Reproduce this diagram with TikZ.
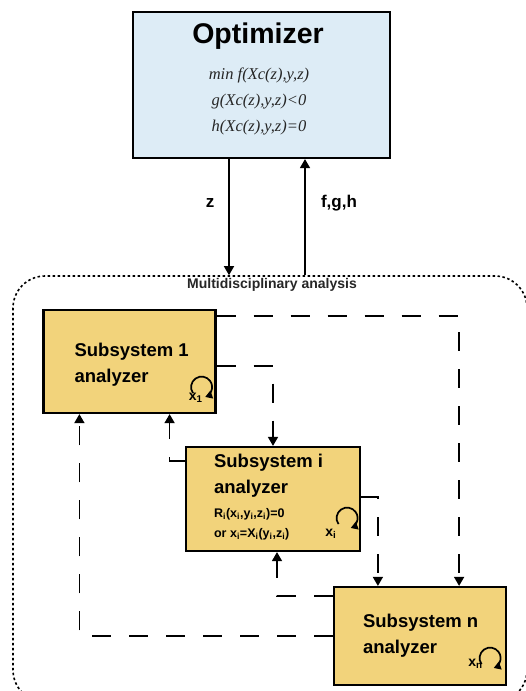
\documentclass[tikz,border=0pt]{standalone}
\usepackage{fontspec}
\setmainfont{Liberation Sans}
\newfontfamily\formfont{Liberation Serif}
\usetikzlibrary{positioning,arrows.meta}
\definecolor{optblue}{RGB}{221,236,246}
\definecolor{subgold}{RGB}{242,211,123}

\begin{document}
\begin{tikzpicture}[x=1pt,y=-1pt]
  % Parameters
  \def\dashon{19pt}
  \def\dashoff{18pt}
  \def\loopr{10.5pt}

  % Styles and the little iteration loop
  \tikzset{
    boxline/.style={draw, line width=2.2pt, rectangle, inner sep=0pt},
    subbox/.style={boxline, fill=subgold, minimum width=172pt, minimum height=103pt},
    lbl/.style={font=\bfseries\fontsize{18.5}{26}\selectfont, align=left, anchor=north west, inner sep=0pt},
    xlbl/.style={font=\bfseries\fontsize{14}{16}\selectfont, anchor=base west, inner sep=0pt},
    arrowtip/.style={-{Triangle[length=9pt,width=10pt]}},
    flow/.style={arrowtip, line width=1.5pt, dash pattern=on \dashon off \dashoff},
    feed/.style={arrowtip, line width=1.5pt},
    iterloop/.pic={
      \draw[line width=1.7pt, -{Triangle[length=7pt,width=8pt]}]
        (215:\loopr) arc[start angle=215, end angle=-70, radius=\loopr];
    }
  }

  \useasboundingbox (0,0) rectangle (526,691);

  % Optimizer
  \node[boxline, fill=optblue, minimum width=257pt, minimum height=146pt] (opt) at (261.5,85) {};
  \node[font=\bfseries\fontsize{28.5}{30}\selectfont] (optTitle) at (258,36) {Optimizer};
  \node[font=\formfont\itshape\fontsize{16.5}{26}\selectfont, text=black!85, align=center] (optForm) at (259,101)
    {min f(Xc(z),y,z)\\g(Xc(z),y,z)<0\\h(Xc(z),y,z)=0};

  % Multidisciplinary analysis frame
  \node[draw, line width=1.6pt, dash pattern=on 2.5pt off 2.5pt, rounded corners=32pt,
        minimum width=514pt, minimum height=426pt, inner sep=0pt] (mda) at (270,489) {};
  \node[font=\bfseries\fontsize{14}{16}\selectfont, text=black!85, anchor=north, inner sep=0pt]
    (mdaLbl) at ([xshift=2pt,yshift=-3pt]mda.north) {Multidisciplinary analysis};

  % z and f,g,h
  \draw[feed] ([xshift=-32.5pt]opt.south) -- ([xshift=-32.5pt]opt.south |- mda.north);
  \draw[feed] ([xshift=43.5pt]opt.south |- mda.north) -- ([xshift=43.5pt]opt.south);
  \node[font=\bfseries\fontsize{17}{20}\selectfont, anchor=base] (zLbl) at (210,207) {z};
  \node[font=\bfseries\fontsize{17}{20}\selectfont, anchor=base] (fghLbl) at (339,207) {f,g,h};

  % Subsystems
  \node[subbox] (s1) at (129.5,361.5) {};
  \node[subbox, minimum width=174pt, minimum height=104pt] (si) at (273,499) {};
  \node[subbox, minimum height=98pt] (sn) at (420,636) {};

  \node[lbl] (s1Txt) at ([xshift=32pt,yshift=-34pt]s1.north west) {Subsystem 1\\analyzer};
  \node[lbl] (siTxt) at ([xshift=29pt,yshift=-7.5pt]si.north west) {Subsystem i\\analyzer};
  \node[lbl, font=\bfseries\fontsize{12.5}{20}\selectfont] (siEq) at ([xshift=29pt,yshift=-62pt]si.north west)
    {R\textsubscript{i}(x\textsubscript{i},y\textsubscript{i},z\textsubscript{i})=0\\or x\textsubscript{i}=X\textsubscript{i}(y\textsubscript{i},z\textsubscript{i})};
  \node[lbl] (snTxt) at ([xshift=30pt,yshift=-27.5pt]sn.north west) {Subsystem n\\analyzer};

  % Iteration loops
  \pic at ([xshift=-15pt,yshift=27pt]s1.south east) {iterloop};
  \pic at ([xshift=-14pt,yshift=34pt]si.south east) {iterloop};
  \pic at ([xshift=-17pt,yshift=28pt]sn.south east) {iterloop};
  \node[xlbl] (x1) at ([xshift=-28pt,yshift=14pt]s1.south east) {x\textsubscript{1}};
  \node[xlbl] (xi) at ([xshift=-36pt,yshift=16pt]si.south east) {x\textsubscript{i}};
  \node[xlbl] (xn) at ([xshift=-39pt,yshift=20pt]sn.south east) {x\textsubscript{n}};

  % Coupling flows
  \draw[flow] ([yshift=-7pt]s1.north east) -| ([xshift=-48pt]sn.north east);
  \draw[flow] ([yshift=-57pt]s1.north east) -| (si.north);
  \draw[flow] ([yshift=-51pt]si.north east) -| ([xshift=45pt]sn.north west);
  \draw[flow] ([yshift=-10pt]sn.north west) -| ([xshift=4pt]si.south);
  \draw[flow] ([yshift=-50pt]sn.north west) -| ([xshift=37pt]s1.south west);
  \draw[flow] ([yshift=-15pt]si.north west) -| ([xshift=-47pt]s1.south east);

\end{tikzpicture}
\end{document}
